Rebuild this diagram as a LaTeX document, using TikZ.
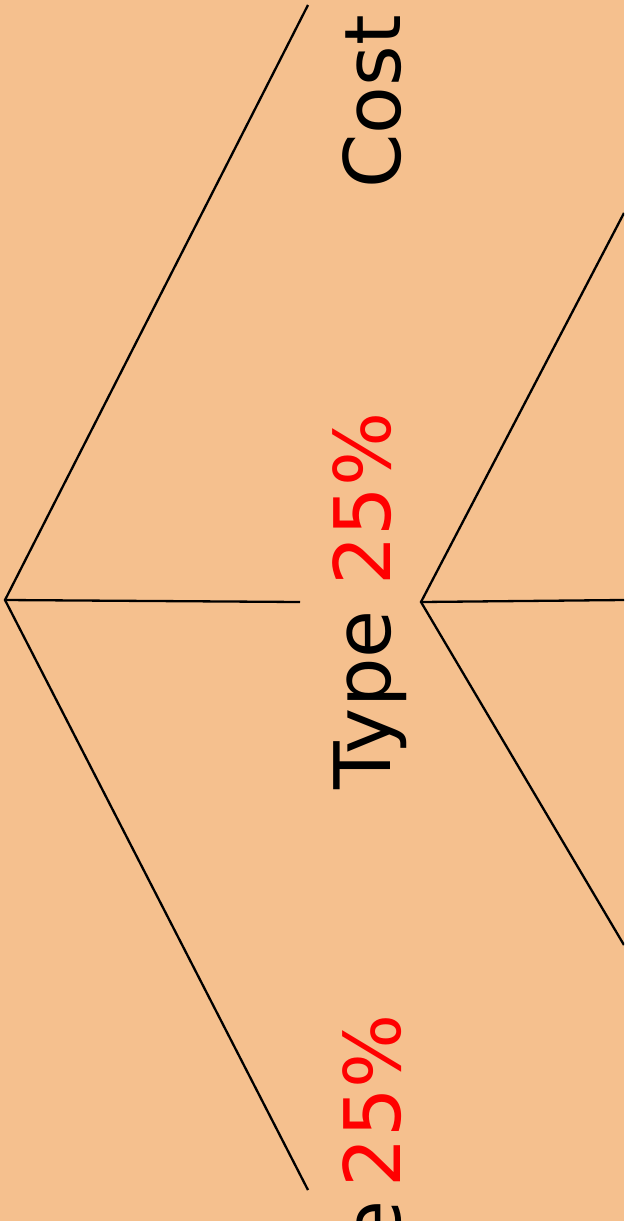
\documentclass[tikz,border=0pt]{standalone}
\usepackage{fontspec}
\setmainfont{DejaVu Sans}
\definecolor{bgcolor}{HTML}{F5C08E}
\definecolor{pctcolor}{HTML}{FF0000}

\begin{document}
\begin{tikzpicture}[x=1pt, y=-1pt,
		line/.style={black, line width=2.3pt},
		label/.style={rotate=90, inner sep=0pt, font=\fontsize{78}{82}\selectfont}
		]
		
		% 背景
		\fill[bgcolor] (0,0) rectangle (624,1221);
		\useasboundingbox (0,0) rectangle (624,1221);
		\clip (0,0) rectangle (624,1221);
		
		% 分支坐标
		\coordinate (R) at (5, 600);
		\coordinate (A) at (308, 5);
		\coordinate (B) at (300, 602);
		\coordinate (C) at (308, 1190);
		
		\coordinate (S) at (421, 602);
		\coordinate (D) at (624, 213);
		\coordinate (E) at (624, 600);
		\coordinate (F) at (624, 945);
		
		% 画线
		\draw[line] (A) -- (R) -- (C);
		\draw[line] (R) -- (B);
		\draw[line] (D) -- (S) -- (F);
		\draw[line] (S) -- (E);
		
		% 文字标注
		\node[label, anchor=base] (cost) at (400, 102) {Cost};
		\node[label, anchor=base] (type) at (390, 601) {Type \textcolor{pctcolor}{25\%}};
		\node[label, anchor=base east] (size) at (400, 1014) {Size\,\textcolor{pctcolor}{25\%}};
		
	\end{tikzpicture}
\end{document}
